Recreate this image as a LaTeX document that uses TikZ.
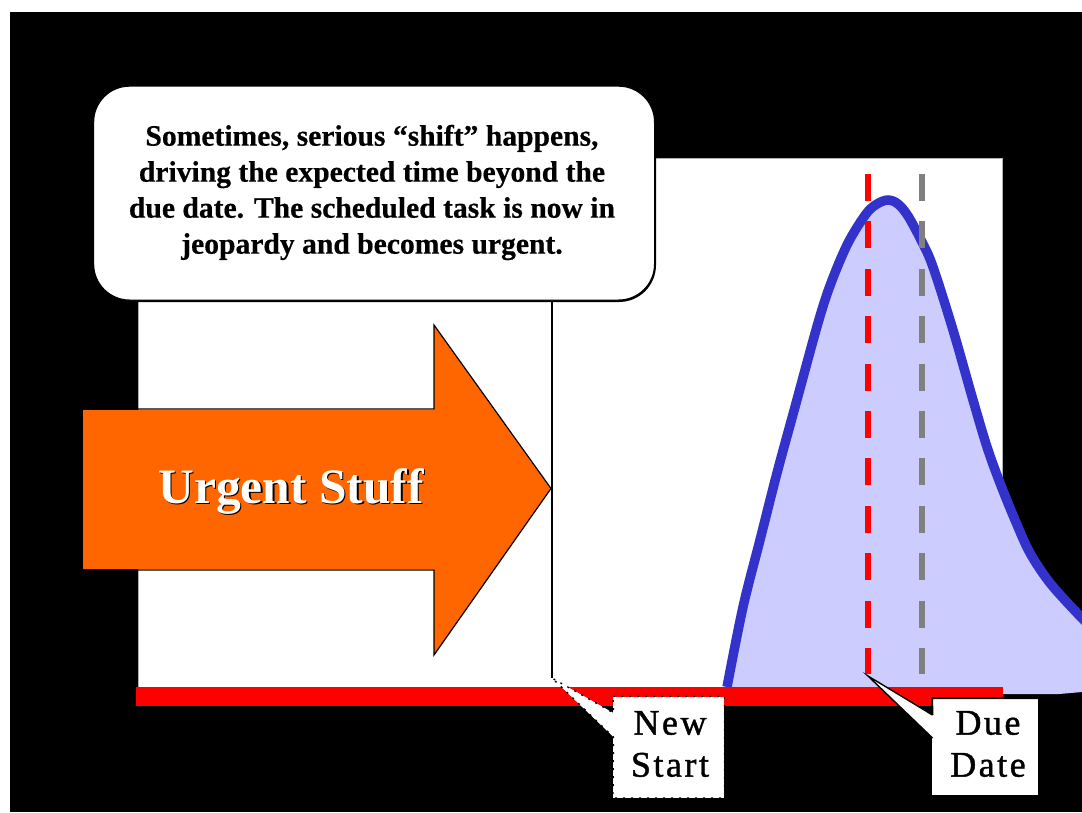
\documentclass[tikz,border=0pt]{standalone}
\usepackage{fontspec}
\setmainfont{Liberation Serif}
\newfontfamily\labelfont[LetterSpace=7,FakeBold=1.2]{Liberation Serif}
\newfontfamily\notefont[FakeBold=0.5]{Liberation Serif Bold}
\definecolor{curveblue}{HTML}{3333CC}
\definecolor{curvefill}{HTML}{CCCCFF}
\definecolor{urgent}{HTML}{FF6600}
\begin{document}
\begin{tikzpicture}[x=1pt,y=-1pt,
  dashline/.style={line width=6pt,dash pattern=on 27pt off 20.4pt},
  tagbox/.style={fill=white,inner sep=0pt},
  tagtext/.style={inner sep=0pt,align=center,font=\labelfont\fontsize{36}{42}\selectfont},
  notebox/.style={draw=black,line width=1.2pt,fill=white,rounded corners=36pt},
  notetext/.style={align=center,inner sep=0pt,font=\notefont\fontsize{29.6}{36}\selectfont},
  urgenttext/.style={inner sep=0pt,anchor=base,font=\bfseries\fontsize{49.5}{50}\selectfont}]
\useasboundingbox (0,0) rectangle (1082,812);
\fill[white] (0,0) rectangle (1082,812);
\fill[black] (10,12) rectangle (1082,812);
% white panel
\fill[white,draw=gray!60,line width=.6pt] (138,158) rectangle (1002,688);
% distribution
\def\curvepts{(727,687) (743,607) (760,540) (777,473) (795,407) (818,323) (831,283) (848,243) (866,214) (877,204) (888,200) (898,204) (908,216) (922,242) (933,267) (953,330) (973,400) (987,447) (1000,483) (1015,520) (1030,553) (1050,583) (1077,613) (1090,626)}
\fill[curvefill] plot[smooth,tension=.55] coordinates {\curvepts} -- (1082,692) -- (1059,694) -- (727,694) -- cycle;
\draw[curveblue,line width=9.5pt] plot[smooth,tension=.55] coordinates {\curvepts};
% dashed date lines
\coordinate (redtop) at (868,174);
\coordinate (redend) at (868,674);
\coordinate (graytop) at (921.5,174);
\coordinate (grayend) at (921.5,674);
\draw[red,dashline] (redtop) -- (redend);
\draw[gray,dashline] (graytop) -- (grayend);
% time axis and start line
\fill[red] (136,687) rectangle (1003,706);
\coordinate (starttip) at (552,678);
\coordinate (linetop) at (552,298);
\draw[black,line width=2pt] (linetop) -- (starttip);
% arrow
\fill[urgent] (83,410) -- (434,410) -- (434,325) -- (551,488.5) -- (434,655) -- (434,569) -- (83,569) -- cycle;
\draw[black,line width=1.2pt] (138,409) -- (434,409) -- (434,325) -- (551,488.5) -- (434,655) -- (434,570) -- (138,570);
\node[urgenttext,black] (urgentshadow) at (292.5,504.5) {Urgent Stuff};
\node[urgenttext,white] (urgentlabel) at (291,503) {Urgent Stuff};
% note
\draw[black,line width=2pt,rounded corners=36pt] (93.5,87) rectangle (655,301);
\node[notebox,minimum width=561pt,minimum height=214pt,anchor=north west] (note) at (93,85.5) {};
\node[notetext,anchor=center] (notelabel) at (372,192.5) {Sometimes, serious “shift” happens,\\driving the expected time beyond the\\due date. The scheduled task is now in\\jeopardy and becomes urgent.};
% New Start tag
\node[tagbox,minimum width=111pt,minimum height=101pt,anchor=north west] (newstart) at (613,696.5) {};
\coordinate (nsa) at (613.5,713);
\coordinate (nsb) at (613.5,737);
\fill[white] (starttip) -- (nsa) -- (nsb) -- cycle;
\draw[black,line width=1.3pt,dash pattern=on 2pt off 6pt] (newstart.north west) -- (newstart.north east) -- (newstart.south east) -- (newstart.south west) -- (nsb) -- (starttip) -- (nsa) -- cycle;
\node[tagtext] (newstartlabel) at (670,744) {New\\Start};
% Due Date tag
\node[tagbox,minimum width=106pt,minimum height=97pt,anchor=north west] (duedate) at (932,698) {};
\coordinate (duetip) at (868,676);
\coordinate (dda) at (932.5,715);
\coordinate (ddb) at (932.5,738);
\draw[black,line width=2pt] (duedate.north east) -- (duedate.north west) -- (dda);
\fill[white] (duetip) -- (dda) -- (ddb) -- cycle;
\draw[black,line width=1.4pt] (ddb) -- (duetip) -- (dda);
\node[tagtext] (duedatelabel) at (988,744) {Due\\Date};
\end{tikzpicture}
\end{document}
